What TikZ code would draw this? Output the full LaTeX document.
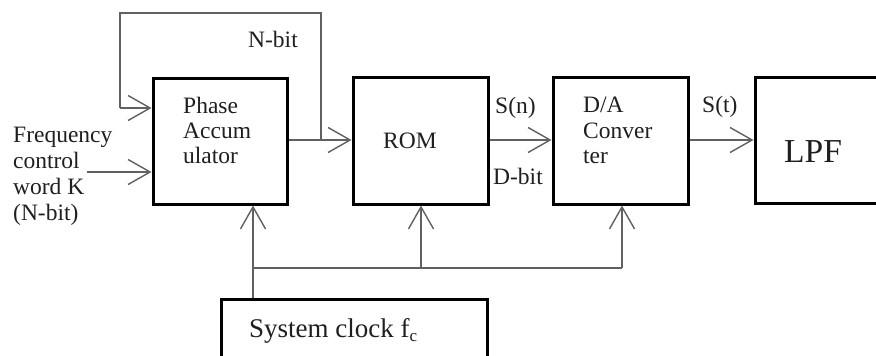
\documentclass[tikz,border=0pt]{standalone}
\usepackage{fontspec}
\setmainfont{Liberation Serif}
\usetikzlibrary{arrows.meta}

\tikzset{
  block/.style={draw=black, line width=3pt, fill=white, inner sep=0pt},
  wire/.style={draw=black!62, line width=1.4pt},
  feed/.style={wire, -{Straight Barb[length=22pt, width=25pt, line width=1.4pt]}},
  lbl/.style={anchor=base west, inner sep=0pt, text=black!88,
              font=\fontsize{23.5}{25}\selectfont},
}

\begin{document}
\begin{tikzpicture}[x=1pt, y=-1pt]
  \useasboundingbox (0,0) rectangle (876,356);
  \clip (0,0) rectangle (876,356);

  % signal-chain blocks
  \node[block, minimum width=134pt, minimum height=126pt] (pa)  at (220,141)   {};
  \node[block, minimum width=135pt, minimum height=127pt] (rom) at (420.5,140.5) {};
  \node[block, minimum width=135pt, minimum height=127pt] (dac) at (620.5,140.5) {};
  \node[block, minimum width=135pt, minimum height=126pt] (lpf) at (822.5,140) {};
  \node[block, minimum width=266pt, minimum height=90pt]  (clk) at (354,344)   {};

  % block labels
  \node[lbl] (pa1) at (183,113) {Phase};
  \node[lbl] (pa2) at (183,138) {Accum};
  \node[lbl] (pa3) at (183,163) {ulator};
  \node[lbl] (romt) at (383,148) {ROM};
  \node[lbl] (da1) at (583,112) {D/A};
  \node[lbl] (da2) at (583,138) {Conver};
  \node[lbl] (da3) at (583,163) {ter};
  \node[lbl, font=\fontsize{33.5}{35}\selectfont] (lpft) at (784,162) {LPF};
  \node[lbl, font=\fontsize{27}{29}\selectfont] (clkt) at (249,337)
       {System clock f\raisebox{-0.35ex}{\fontsize{17}{18}\selectfont c}};

  % signal labels
  \node[lbl] (fw1) at (13,142) {Frequency};
  \node[lbl] (fw2) at (13,168) {control};
  \node[lbl] (fw3) at (13,194) {word K};
  \node[lbl] (fw4) at (13,220) {(N-bit)};
  \node[lbl] (nb)  at (248,47)  {N-bit};
  \node[lbl] (sn)  at (495,113) {S(n)};
  \node[lbl] (db)  at (493,184) {D-bit};
  \node[lbl] (st)  at (702,112) {S(t)};

  % frequency control word input
  \coordinate (kin) at (87,172);
  \draw[feed] (kin) -- (kin -| pa.west);

  % accumulator output and feedback loop
  \coordinate (tap) at (321,140);
  \coordinate (fbl) at (120,13);
  \coordinate (fbin) at (120,108);
  \draw[feed] (pa.east |- tap) -- (rom.west |- tap);
  \draw[wire] (tap) |- (fbl) -- (fbin);
  \draw[feed] (fbin) -- (fbin -| pa.west);

  % ROM -> D/A -> LPF
  \draw[feed] (rom.east |- tap) -- (dac.west |- tap);
  \draw[feed] (dac.east |- tap) -- (lpf.west |- tap);

  % clock distribution
  \coordinate (c1) at (253,268);
  \coordinate (c2) at (421,268);
  \coordinate (c3) at (622,268);
  \draw[wire] (c1 |- clk.north) -- (c1) -- (c3);
  \draw[feed] (c1) -- (c1 |- pa.south);
  \draw[feed] (c2) -- (c2 |- rom.south);
  \draw[feed] (c3) -- (c3 |- dac.south);
\end{tikzpicture}
\end{document}
